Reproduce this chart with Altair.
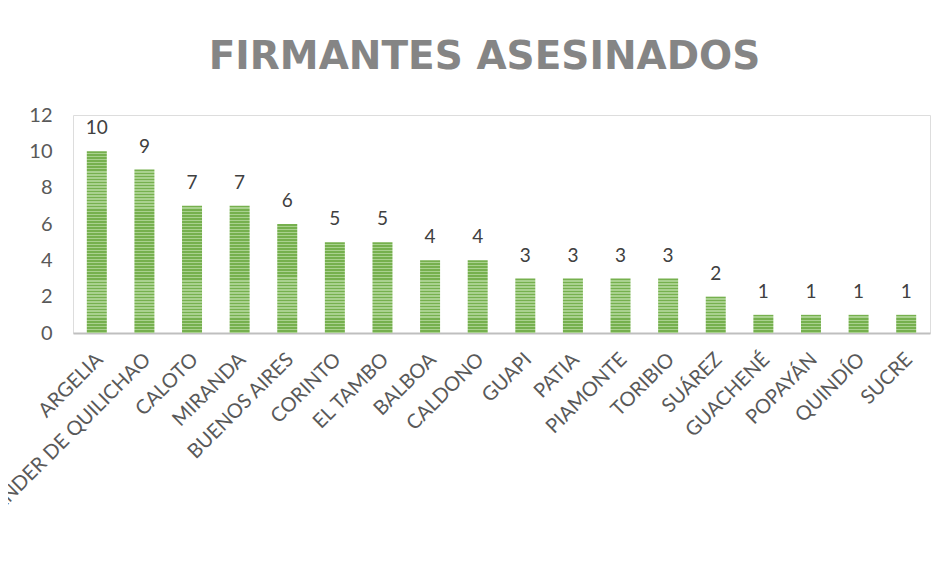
import altair as alt
import pandas as pd

municipios = ["ARGELIA", "SANTANDER DE QUILICHAO", "CALOTO", "MIRANDA", "BUENOS AIRES",
              "CORINTO", "EL TAMBO", "BALBOA", "CALDONO", "GUAPI", "PATIA", "PIAMONTE",
              "TORIBIO", "SUÁREZ", "GUACHENÉ", "POPAYÁN", "QUINDÍO", "SUCRE"]
firmantes = [10, 9, 7, 7, 6, 5, 5, 4, 4, 3, 3, 3, 3, 2, 1, 1, 1, 1]
y_ticks = [0, 2, 4, 6, 8, 10, 12]

df = pd.DataFrame({"municipio": municipios, "firmantes": firmantes})

FONT = "Lato"
LIGHT = "#a9d18e"
DARK = "#76b04e"

x_enc = alt.X("municipio:N",
              scale=alt.Scale(domain=municipios, paddingInner=0.58, paddingOuter=0.29),
              axis=alt.Axis(title=None, labelAngle=-45, labelFontSize=20, labelFont=FONT,
                            labelColor="#595959", labelLimit=400, ticks=False,
                            domainColor="#bfbfbf", domainWidth=2, labelPadding=16,
                            labelOffset=-4))
y_enc = alt.Y("firmantes:Q",
              scale=alt.Scale(domain=[0, 12]),
              axis=alt.Axis(title=None, values=y_ticks, grid=False, domain=False, ticks=False,
                            labelFontSize=20, labelFont=FONT, labelColor="#595959",
                            labelPadding=21))


def stripes(v):
    n = v * 6
    stops = []
    for i in range(n):
        a = i / n
        b = (i + 0.55) / n
        c = (i + 1) / n
        stops += [alt.GradientStop(offset=a, color=DARK), alt.GradientStop(offset=b, color=DARK),
                  alt.GradientStop(offset=b, color=LIGHT), alt.GradientStop(offset=c, color=LIGHT)]
    return alt.LinearGradient(gradient="linear", x1=0, y1=0, x2=0, y2=1, stops=stops)


layers = []
for v in sorted(set(firmantes)):
    layers.append(
        alt.Chart(df).transform_filter(alt.datum.firmantes == v)
        .mark_bar(fill=stripes(v))
        .encode(x=x_enc, y=y_enc)
    )

labels = alt.Chart(df).mark_text(baseline="bottom", dy=-13, fontSize=19, font=FONT,
                                 color="#404040").encode(
    x=x_enc, y=y_enc, text="firmantes:Q")

chart = alt.layer(*layers, labels).properties(
    width=857, height=218,
    title=alt.TitleParams("FIRMANTES ASESINADOS", fontSize=39, font="DejaVu Sans",
                          fontWeight="bold", color="#858585", anchor="middle", dx=-17,
                          offset=28),
    autosize=alt.AutoSizeParams(type="none"),
    padding={"left": 65, "top": 107, "right": 7, "bottom": 225},
).configure_view(strokeWidth=0, stroke="transparent").configure(background="white")

chart.save("out.html", embed_options={"renderer": "svg", "actions": False})
